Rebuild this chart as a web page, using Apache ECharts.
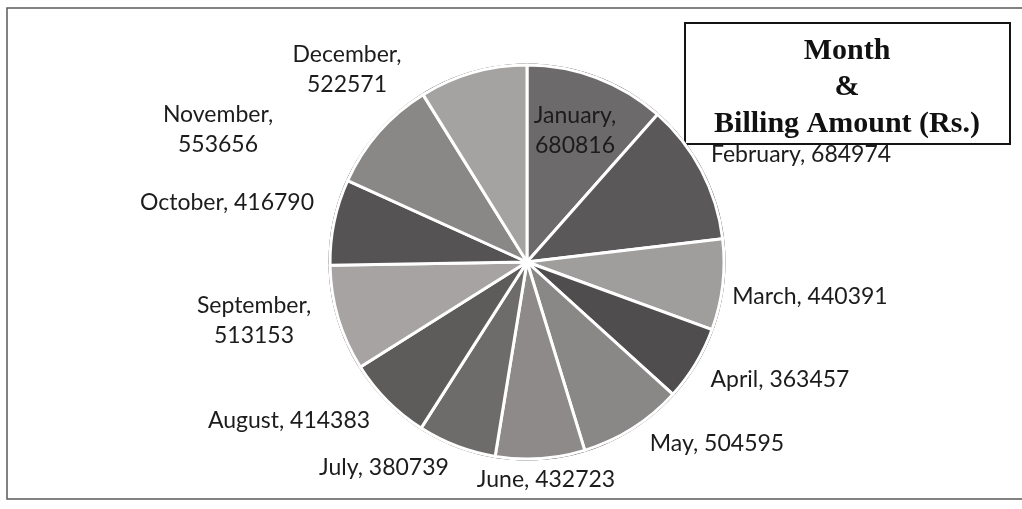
<!DOCTYPE html>
<html>
<head>
<meta charset="utf-8">
<script src="https://cdn.jsdelivr.net/npm/echarts@6/dist/echarts.min.js"></script>
<style>
  html, body { margin: 0; padding: 0; background: #ffffff; }
  #chart { width: 1022px; height: 509px; }
</style>
</head>
<body>
<div id="chart"></div>
<script>
// Monthly billing amounts (Rs.)
const months = ['January', 'February', 'March', 'April', 'May', 'June',
                'July', 'August', 'September', 'October', 'November', 'December'];
const amounts = [680816, 684974, 440391, 363457, 504595, 432723,
                 380739, 414383, 513153, 416790, 553656, 522571];
// Labels that break after the month name
const wrapAfterName = [true, false, false, false, false, false,
                       false, false, true, false, true, true];
const titleLines = ['Month', '&', 'Billing Amount (Rs.)'];

// Slice shades, one per month
const shades = ['#6c6a6a', '#5a5858', '#a09d9d', '#4f4d4d', '#8a8787', '#8e8a8a',
                '#6e6b6b', '#5e5b5b', '#a7a3a3', '#555353', '#8a8787', '#a5a2a2'];
// Where each month's label sits (text block centre)
const labelSpots = [[575, 131], [801, 155], [810, 297], [780, 380], [717, 444], [546, 480],
                    [384, 468], [289, 421], [254, 321], [227, 203], [218, 130], [347, 70]];

const center = [527, 262];
const radius = 197;

const chart = echarts.init(document.getElementById('chart'), null, { renderer: 'canvas' });

const sliceData = months.map((m, i) => ({
  name: m,
  value: amounts[i],
  itemStyle: { color: shades[i] }
}));

chart.setOption({
  backgroundColor: '#ffffff',
  animation: false,
  series: [
    {
      // thin dark rim round the pie
      type: 'pie',
      silent: true,
      center: center,
      radius: [radius - 1, radius + 1.5],
      startAngle: 90,
      label: { show: false },
      labelLine: { show: false },
      itemStyle: { color: '#2a2a2a' },
      data: [{ name: 'rim', value: 1 }],
      z: 1
    },
    {
      type: 'pie',
      center: center,
      radius: [0, radius],
      startAngle: 90,
      clockwise: true,
      avoidLabelOverlap: false,
      itemStyle: { borderColor: '#ffffff', borderWidth: 3 },
      label: {
        show: true,
        position: 'outside',
        fontFamily: 'Lato',
        fontSize: 23,
        lineHeight: 30,
        color: '#1c1c1c',
        formatter: p => p.name + ',' + (wrapAfterName[p.dataIndex] ? '\n' : ' ') + p.value
      },
      labelLine: { show: false },
      labelLayout: p => {
        const s = labelSpots[p.dataIndex];
        return { x: s[0], y: s[1], align: 'center', verticalAlign: 'middle' };
      },
      data: sliceData,
      z: 2
    }
  ],
  graphic: [
    {
      type: 'rect',
      shape: { x: 7, y: 8, width: 1040, height: 491 },
      style: { fill: null, stroke: '#5a5a5a', lineWidth: 1.5 },
      silent: true,
      z: 0
    },
    {
      type: 'group',
      z: 100,
      children: [
        {
          type: 'rect',
          shape: { x: 685, y: 23, width: 325, height: 121 },
          style: { fill: '#ffffff', stroke: '#141414', lineWidth: 2 }
        }
      ].concat(titleLines.map((t, i) => ({
        type: 'text',
        x: 847,
        y: 51 + i * 36.5,
        style: {
          text: t,
          fill: '#111111',
          font: 'bold 30px "Liberation Serif", "Times New Roman", serif',
          align: 'center',
          verticalAlign: 'middle'
        }
      })))
    }
  ]
});
</script>
</body>
</html>
